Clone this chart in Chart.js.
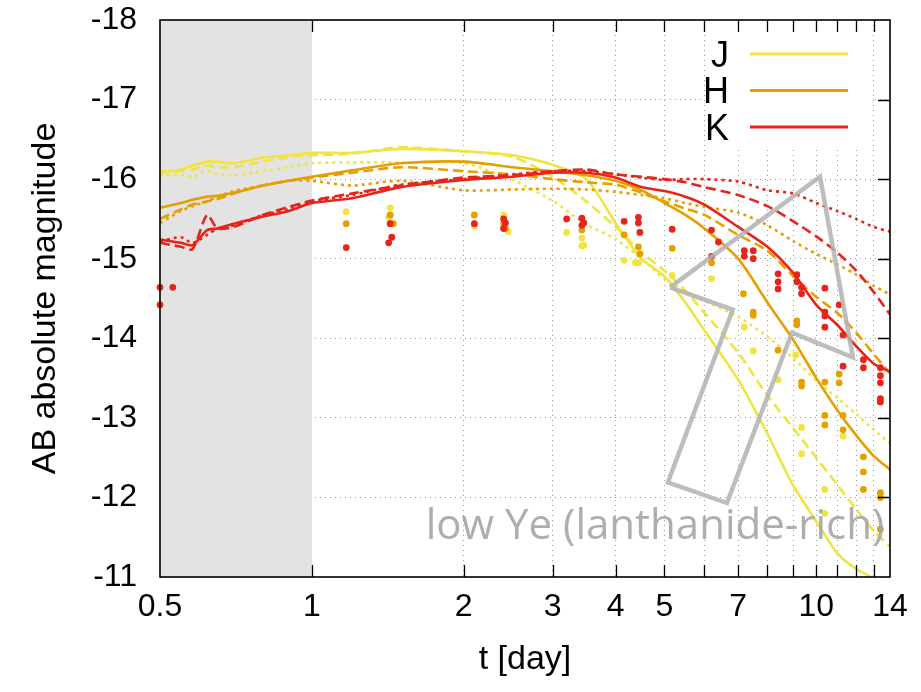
<!DOCTYPE html>
<html><head><meta charset="utf-8">
<script src="https://cdn.jsdelivr.net/npm/chart.js@4.4.1/dist/chart.umd.min.js"></script>
<style>html,body{margin:0;padding:0;background:#fff}canvas{display:block}</style>
</head><body>
<canvas id="c" width="921" height="692"></canvas>
<script>
// ---- data ----
const times = [0.5,0.55,0.58,0.62,0.65,0.7,0.8,0.9,1.0,1.2,1.5,2.0,2.5,3.0,3.5,4.0,4.5,5.0,5.5,6.0,7.0,8.0,9.0,10,11,12,13,14];
const jSolid  = [-16.08,-16.12,-16.17,-16.22,-16.22,-16.2,-16.27,-16.3,-16.33,-16.33,-16.38,-16.35,-16.3,-16.18,-16.0,-15.45,-15.0,-14.78,-14.45,-14.1,-13.48,-12.8,-12.15,-11.7,-11.3,-11.1,-10.98,-10.85];
const jDashed = [-16.1,-16.1,-16.12,-16.17,-16.15,-16.15,-16.22,-16.28,-16.3,-16.32,-16.4,-16.35,-16.28,-16.03,-15.72,-15.4,-15.08,-14.85,-14.6,-14.32,-13.82,-13.28,-12.87,-12.5,-12.16,-11.85,-11.58,-11.38];
const jDotted = [-16.05,-16.05,-16.03,-16.1,-16.06,-16.05,-16.1,-16.15,-16.2,-16.21,-16.21,-16.2,-15.99,-15.73,-15.43,-15.25,-15.0,-14.75,-14.58,-14.47,-14.27,-14.02,-13.75,-13.47,-13.25,-13.05,-12.85,-12.68];
const hSolid  = [-15.64,-15.7,-15.74,-15.78,-15.79,-15.83,-15.92,-15.98,-16.03,-16.11,-16.2,-16.22,-16.15,-16.1,-16.05,-15.98,-15.86,-15.7,-15.55,-15.38,-15.0,-14.45,-13.98,-13.5,-13.1,-12.78,-12.52,-12.35];
const hDashed = [-15.5,-15.62,-15.68,-15.72,-15.75,-15.82,-15.92,-15.98,-16.02,-16.08,-16.15,-16.1,-16.06,-16.0,-15.96,-15.93,-15.83,-15.72,-15.63,-15.55,-15.3,-15.1,-14.78,-14.52,-14.32,-14.07,-13.8,-13.56];
const hDotted = [-15.45,-15.6,-15.66,-15.72,-15.78,-15.85,-15.92,-15.98,-15.98,-15.92,-15.98,-15.86,-15.87,-15.88,-15.87,-15.84,-15.8,-15.76,-15.7,-15.65,-15.58,-15.42,-15.22,-15.06,-14.93,-14.8,-14.66,-14.55];
const kSolid  = [-15.24,-15.2,-15.17,-15.36,-15.38,-15.44,-15.53,-15.6,-15.7,-15.76,-15.9,-15.99,-16.03,-16.08,-16.08,-16.02,-15.9,-15.85,-15.78,-15.68,-15.4,-15.15,-14.82,-14.42,-14.17,-13.9,-13.68,-13.58];
const kDashed = [-15.2,-15.15,-15.12,-15.55,-15.38,-15.4,-15.55,-15.65,-15.73,-15.82,-15.92,-16.02,-16.05,-16.1,-16.12,-16.06,-16.03,-16.0,-15.96,-15.9,-15.8,-15.66,-15.47,-15.28,-15.08,-14.85,-14.58,-14.3];
const kDotted = [-15.22,-15.27,-15.2,-15.3,-15.38,-15.42,-15.55,-15.62,-15.72,-15.8,-15.93,-16.0,-16.06,-16.1,-16.1,-16.06,-16.02,-15.99,-16.0,-16.0,-15.97,-15.86,-15.82,-15.7,-15.6,-15.5,-15.4,-15.34];

const jObsT = [1.17,1.43,1.42,2.1,2.4,2.45,3.2,3.43,3.43,3.46,4.16,4.38,4.44,5.18,6.2,7.2,7.5,8.4,9.1,9.35,9.35,10.4,10.4,11.3];
const jObsM = [-15.59,-15.64,-15.52,-15.41,-15.55,-15.34,-15.33,-15.26,-15.16,-15.17,-14.98,-14.95,-14.95,-14.79,-14.75,-14.14,-13.84,-13.48,-13.79,-12.88,-12.55,-12.1,-11.8,-12.77];
const hObsT = [1.17,1.43,1.43,1.45,2.1,2.4,2.42,3.43,4.16,4.44,4.47,5.18,6.2,7.17,7.5,7.5,8.4,9.15,9.15,9.35,9.35,10.4,10.4,10.4,11.1,11.1,11.3,11.3,12.4,12.4,12.4,13.4,13.4,13.4];
const hObsM = [-15.44,-15.55,-15.44,-15.44,-15.55,-15.44,-15.38,-15.36,-15.3,-15.15,-15.06,-15.13,-14.95,-14.56,-14.33,-14.29,-13.85,-14.22,-14.17,-13.45,-13.4,-13.45,-13.03,-12.91,-13.55,-13.44,-13.03,-12.85,-12.51,-12.32,-12.1,-12.06,-12.0,-11.6];
const kObsT = [0.5,0.5,0.53,1.17,1.43,1.44,1.42,2.1,2.4,2.42,2.4,3.2,3.43,3.43,3.46,4.16,4.44,4.44,4.47,5.18,6.2,6.4,6.2,7.2,7.2,7.5,7.5,8.4,8.4,8.4,9.15,9.15,9.35,9.35,10.4,10.4,10.4,10.4,11.1,11.3,11.3,12.4,12.4,13.4,13.4,13.4,13.4,13.4];
const kObsM = [-14.64,-14.42,-14.64,-15.14,-15.44,-15.27,-15.2,-15.44,-15.5,-15.45,-15.38,-15.5,-15.51,-15.42,-15.45,-15.47,-15.52,-15.45,-15.33,-15.37,-15.36,-15.21,-15.03,-15.1,-15.03,-15.1,-15.0,-14.81,-14.71,-14.62,-14.8,-14.71,-14.64,-14.56,-14.63,-14.33,-14.28,-14.14,-14.42,-14.04,-13.65,-13.73,-13.63,-13.63,-13.53,-13.44,-13.24,-13.2];

const shapeT = [5.13,10.17,11.82,8.95,6.65,5.08,6.83,5.13];
const shapeM = [-14.64,-16.03,-13.76,-14.07,-11.93,-12.19,-14.36,-14.64];

const xTicks  = [0.5,1,2,3,4,5,6,7,8,9,10,11,12,13,14];
const xLabels = [0.5,1,2,3,4,5,7,10,14];
const yTicks  = [-18,-17,-16,-15,-14,-13,-12,-11];
const bandNames = ['J','H','K'];
const shadeRange = [0.5, 1];
const noteText = 'low Ye (lanthanide-rich)';
const notePos = [4.79, -11.63];

// ---- styles ----
const COL = {J:'#f0e442', H:'#e69f00', K:'#e8231a'};
const DASH = {solid:[], dashed:[10,5], dotted:[3,4]};
const pts = (ts, ms) => ts.map((t,i) => ({x:t, y:ms[i]}));

function lineDS(label, arr, col, style){
  return {label, data: pts(times, arr), borderColor: col, backgroundColor: col,
    borderWidth: 2.6, borderDash: DASH[style], pointRadius: 0, fill:false, tension: 0.25};
}
function obsDS(label, ts, ms, col){
  return {label, data: pts(ts, ms), showLine:false, pointRadius:3.4, pointHoverRadius:3.4,
    pointBackgroundColor: col, pointBorderWidth:0, borderColor: col, clip: 6};
}

const datasets = [
  {label:'shape', data: pts(shapeT, shapeM), borderColor:'rgba(178,178,178,0.85)', borderWidth:4.5,
   pointRadius:0, tension:0, fill:false, borderJoinStyle:'miter'},
  obsDS('K obs', kObsT, kObsM, COL.K),
  lineDS('K solid', kSolid, COL.K, 'solid'),
  lineDS('K dashed', kDashed, COL.K, 'dashed'),
  lineDS('K dotted', kDotted, COL.K, 'dotted'),
  obsDS('H obs', hObsT, hObsM, COL.H),
  lineDS('H solid', hSolid, COL.H, 'solid'),
  lineDS('H dashed', hDashed, COL.H, 'dashed'),
  lineDS('H dotted', hDotted, COL.H, 'dotted'),
  obsDS('J obs', jObsT, jObsM, COL.J),
  lineDS('J solid', jSolid, COL.J, 'solid'),
  lineDS('J dashed', jDashed, COL.J, 'dashed'),
  lineDS('J dotted', jDotted, COL.J, 'dotted'),
];

const FONT = 'Liberation Sans, Arial, sans-serif';

const deco = {
  id:'deco',
  beforeDatasetsDraw(chart){
    const {ctx, chartArea:a, scales:{x}} = chart;
    ctx.save();
    const x0 = x.getPixelForValue(shadeRange[0]), x1 = x.getPixelForValue(shadeRange[1]);
    ctx.fillStyle = '#e3e3e3';
    ctx.fillRect(x0, a.top, x1-x0, a.bottom-a.top);
    // legend box
    ctx.fillStyle = '#fff';
    ctx.fillRect(a.right-185, a.top, 166, 128);
    ctx.font = '36px ' + FONT;
    ctx.textAlign = 'right';
    ctx.textBaseline = 'middle';
    bandNames.forEach((b,i) => {
      const yy = a.top + 34 + i*36.5;
      ctx.fillStyle = '#000';
      ctx.fillText(b, a.right-161, yy+3);
      ctx.strokeStyle = COL[b];
      ctx.lineWidth = 3;
      ctx.beginPath(); ctx.moveTo(a.right-140, yy); ctx.lineTo(a.right-42, yy); ctx.stroke();
    });
    ctx.restore();
  },
  afterDatasetsDraw(chart){
    const {ctx, chartArea:a, scales:{x,y}} = chart;
    ctx.save();
    // annotation text
    ctx.font = '42px "Open Sans", "Noto Sans", sans-serif';
    ctx.fillStyle = 'rgba(165,165,165,0.9)';
    ctx.textAlign = 'center'; ctx.textBaseline = 'middle';
    ctx.fillText(noteText, x.getPixelForValue(notePos[0]), y.getPixelForValue(notePos[1]));
    // inward ticks
    ctx.strokeStyle = '#000'; ctx.lineWidth = 1.3;
    ctx.beginPath();
    xTicks.forEach(v => {
      if (v <= shadeRange[0] || v >= xTicks[xTicks.length-1]) return;
      const p = Math.round(x.getPixelForValue(v)) + 0.5;
      ctx.moveTo(p, a.bottom); ctx.lineTo(p, a.bottom-12);
      ctx.moveTo(p, a.top); ctx.lineTo(p, a.top+12);
    });
    yTicks.forEach(v => {
      if (v === yTicks[0] || v === yTicks[yTicks.length-1]) return;
      const p = Math.round(y.getPixelForValue(v)) + 0.5;
      ctx.moveTo(a.right, p); ctx.lineTo(a.right-12, p);
    });
    ctx.stroke();
    // frame
    ctx.lineWidth = 1.6;
    ctx.strokeRect(a.left, a.top, a.right-a.left, a.bottom-a.top);
    // axis titles
    ctx.fillStyle = '#000';
    ctx.font = '34px ' + FONT;
    ctx.textAlign = 'center'; ctx.textBaseline = 'middle';
    ctx.fillText('t [day]', (a.left+a.right)/2, 660);
    ctx.translate(46, (a.top+a.bottom)/2);
    ctx.rotate(-Math.PI/2);
    ctx.fillText('AB absolute magnitude', 0, 0);
    ctx.restore();
  }
};

const gridOpts = {color:'#9a9a9a', lineWidth:1, drawTicks:false};
const borderOpts = {display:false, dash:[1,4]};

new Chart(document.getElementById('c'), {
  type:'line',
  data:{datasets},
  options:{
    responsive:false, animation:false, devicePixelRatio:1,
    layout:{padding:{top:20, right:31, left:0, bottom:0}},
    plugins:{legend:{display:false}, tooltip:{enabled:false}},
    scales:{
      x:{type:'logarithmic', min:0.5, max:14,
        afterBuildTicks: s => { s.ticks = xTicks.map(v => ({value:v})); },
        afterFit: s => { s.height = 115; s.paddingLeft = 0; s.paddingRight = 0; },
        ticks:{autoSkip:false, maxRotation:0, minRotation:0, padding:11, color:'#000',
          font:{family:FONT, size:32},
          callback: v => xLabels.includes(v) ? String(v) : ''},
        grid:gridOpts, border:borderOpts},
      y:{type:'linear', reverse:true, min:-18, max:-11,
        afterBuildTicks: s => { s.ticks = yTicks.map(v => ({value:v})); },
        afterFit: s => { s.width = 160; s.paddingTop = 0; s.paddingBottom = 0; },
        ticks:{padding:23, color:'#000', font:{family:FONT, size:32},
          callback: v => String(v)},
        grid:gridOpts, border:borderOpts}
    }
  },
  plugins:[deco]
});
</script>
</body></html>
